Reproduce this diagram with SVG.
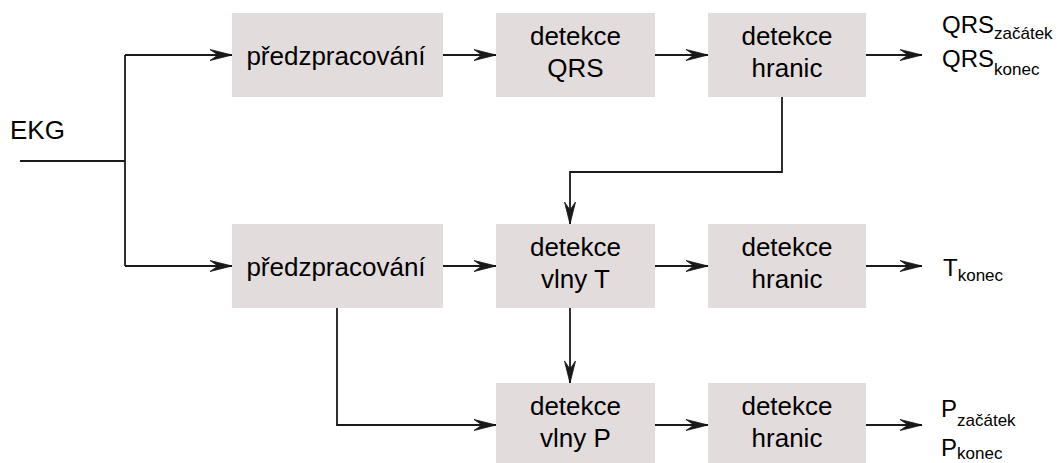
<svg xmlns="http://www.w3.org/2000/svg" width="1063" height="463" viewBox="0 0 1063 463">
<style>
.box rect{fill:#e3dcdc;stroke:none}
.box text{font-family:"Liberation Sans",Arial,sans-serif;font-size:26px;fill:#000;text-anchor:middle}
.lbl{font-family:"Liberation Sans",Arial,sans-serif;font-size:24px;fill:#000}
.sub{font-size:17px}
.conn path{fill:none;stroke:#1a1a1a;stroke-width:1.8}
</style>
<defs>
<marker id="arr" markerUnits="userSpaceOnUse" markerWidth="26" markerHeight="14" refX="23" refY="7" orient="auto">
<path d="M1,1.5 L23,7 L1,12.5 L9,7 Z" fill="#1a1a1a" stroke="#111" stroke-width="0.8" stroke-linejoin="miter"/>
</marker>
</defs>
<g id="n1"><g class="box"><rect x="232" y="13" width="211" height="84"/><text x="336" y="65">předzpracování</text></g></g>
<g id="n2"><g class="box"><rect x="496" y="13" width="159" height="84"/><text x="575.5" y="45">detekce</text><text x="575.5" y="77">QRS</text></g></g>
<g id="n3"><g class="box"><rect x="708" y="13" width="158" height="84"/><text x="787" y="45">detekce</text><text x="787" y="77">hranic</text></g></g>
<g id="n4"><g class="box"><rect x="232" y="224" width="211" height="84"/><text x="336" y="276">předzpracování</text></g></g>
<g id="n5"><g class="box"><rect x="496" y="224" width="159" height="84"/><text x="575.5" y="256">detekce</text><text x="575.5" y="288">vlny T</text></g></g>
<g id="n6"><g class="box"><rect x="708" y="224" width="158" height="84"/><text x="787" y="256">detekce</text><text x="787" y="288">hranic</text></g></g>
<g id="n7"><g class="box"><rect x="496" y="383" width="159" height="84"/><text x="575.5" y="415">detekce</text><text x="575.5" y="447">vlny P</text></g></g>
<g id="n8"><g class="box"><rect x="708" y="383" width="158" height="84"/><text x="787" y="415">detekce</text><text x="787" y="447">hranic</text></g></g>
<g id="labels">
<text class="lbl" x="10" y="139" style="font-size:26px">EKG</text>
<text class="lbl" x="942" y="33">QRS<tspan class="sub" dy="6">začátek</tspan></text>
<text class="lbl" x="942" y="67">QRS<tspan class="sub" dy="8">konec</tspan></text>
<text class="lbl" x="943" y="276">T<tspan class="sub" dy="5">konec</tspan></text>
<text class="lbl" x="941" y="417">P<tspan class="sub" dy="9">začátek</tspan></text>
<text class="lbl" x="941" y="456">P<tspan class="sub" dy="3">konec</tspan></text>
</g>
<g id="connectors" class="conn">
<path d="M20,161 H125"/>
<path d="M125,55 V266"/>
<path d="M125,55 H232" marker-end="url(#arr)"/>
<path d="M443,55 H496" marker-end="url(#arr)"/>
<path d="M655,55 H708" marker-end="url(#arr)"/>
<path d="M866,55 H922" marker-end="url(#arr)"/>
<path d="M782,97 V172 H570 V224" marker-end="url(#arr)"/>
<path d="M125,266 H232" marker-end="url(#arr)"/>
<path d="M443,266 H496" marker-end="url(#arr)"/>
<path d="M655,266 H708" marker-end="url(#arr)"/>
<path d="M866,266 H922" marker-end="url(#arr)"/>
<path d="M570,308 V383" marker-end="url(#arr)"/>
<path d="M337,308 V425 H496" marker-end="url(#arr)"/>
<path d="M655,425 H708" marker-end="url(#arr)"/>
<path d="M866,425 H922" marker-end="url(#arr)"/>
</g>
</svg>
